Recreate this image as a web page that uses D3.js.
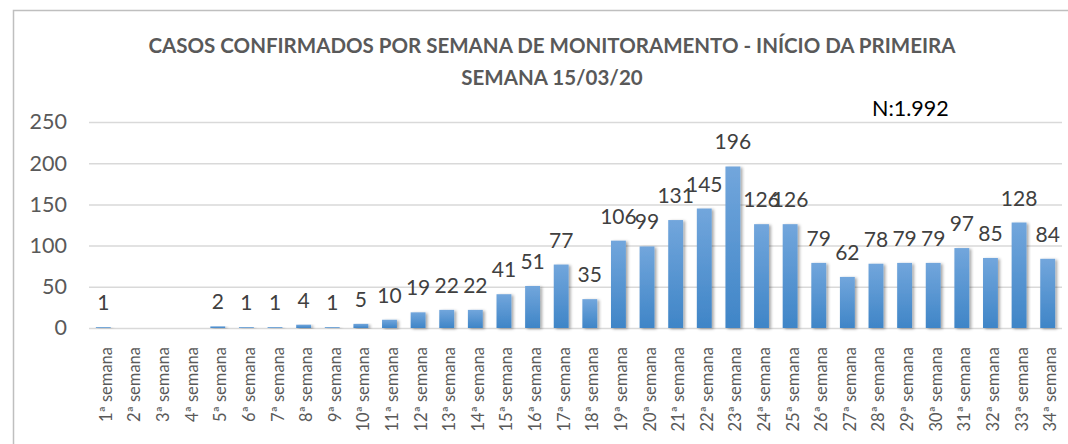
<!DOCTYPE html>
<html>
<head>
<meta charset="utf-8">
<script src="https://cdn.jsdelivr.net/npm/d3@7"></script>
<style>
  body { margin: 0; background: #fff; }
  svg { display: block; font-family: Lato, "Open Sans", sans-serif; }
</style>
</head>
<body>
<div id="chart"></div>
<script>
// data
const weeks = d3.range(1, 35).map(i => i + "ª semana");
const cases = [1, 0, 0, 0, 2, 1, 1, 4, 1, 5, 10, 19, 22, 22, 41, 51, 77, 35, 106, 99,
  131, 145, 196, 126, 126, 79, 62, 78, 79, 79, 97, 85, 128, 84];
const yTicks = [0, 50, 100, 150, 200, 250];
const titleLines = ["CASOS CONFIRMADOS POR SEMANA DE MONITORAMENTO - INÍCIO DA PRIMEIRA", "SEMANA 15/03/20"];

const W = 1068, H = 444;
const margin = {top: 122, right: 6, bottom: 116, left: 89};

const svg = d3.select("#chart")
  .append("svg")
    .attr("width", W)
    .attr("height", H);

// chart frame
svg.append("rect")
  .attr("x", 13.5).attr("y", 10.5)
  .attr("width", 1080).attr("height", 460)
  .attr("fill", "none")
  .attr("stroke", "#bfbfbf")
  .attr("stroke-width", 1.5);

const defs = svg.append("defs");
const grad = defs.append("linearGradient")
  .attr("id", "barGrad")
  .attr("x1", 0).attr("y1", 0).attr("x2", 0).attr("y2", 1);
grad.append("stop").attr("offset", "0%").attr("stop-color", "#72a6dc");
grad.append("stop").attr("offset", "100%").attr("stop-color", "#3f85c7");

const shadow = defs.append("filter")
  .attr("id", "shadow")
  .attr("x", "-30%").attr("y", "-10%").attr("width", "160%").attr("height", "130%");
shadow.append("feDropShadow")
  .attr("dx", 2).attr("dy", 1)
  .attr("stdDeviation", 1.5)
  .attr("flood-color", "#000")
  .attr("flood-opacity", 0.35);

// title
svg.selectAll(".title")
  .data(titleLines)
  .join("text")
    .attr("class", "title")
    .attr("x", 552)
    .attr("y", (d, i) => 53 + i * 32)
    .attr("text-anchor", "middle")
    .attr("font-weight", "bold")
    .attr("font-size", 20.5)
    .attr("fill", "#595959")
    .text(d => d);

svg.append("text")
  .attr("x", 872)
  .attr("y", 116)
  .attr("font-size", 21.5)
  .attr("fill", "#000")
  .text("N:1.992");

const x = d3.scaleBand()
  .domain(weeks)
  .range([margin.left, W - margin.right - 0])
  .paddingInner(0.48)
  .paddingOuter(0.24);

const y = d3.scaleLinear()
  .domain([0, 250])
  .range([H - margin.bottom, margin.top]);

// gridlines + y labels
const yAxis = svg.append("g")
  .attr("transform", `translate(${margin.left},0)`)
  .call(d3.axisLeft(y)
    .tickValues(yTicks)
    .tickSize(-(W - margin.right - margin.left))
    .tickPadding(22));
yAxis.select(".domain").remove();
yAxis.selectAll("line")
  .attr("stroke", "#d9d9d9")
  .attr("stroke-width", 1.5);
yAxis.selectAll("text")
  .attr("font-size", 21.5)
  .attr("fill", "#595959")
  .attr("font-family", "Lato, sans-serif");

// bars
svg.selectAll(".bar")
  .data(cases)
  .join("rect")
    .attr("class", "bar")
    .attr("x", (d, i) => x(weeks[i]))
    .attr("y", d => y(d))
    .attr("width", x.bandwidth())
    .attr("height", d => y(0) - y(d))
    .attr("fill", "url(#barGrad)")
    .attr("filter", "url(#shadow)");

// data labels (weeks with zero cases have none)
svg.selectAll(".val")
  .data(cases.map((v, i) => ({v, i})).filter(d => d.v > 0))
  .join("text")
    .attr("class", "val")
    .attr("x", d => x(weeks[d.i]) + x.bandwidth() / 2)
    .attr("y", d => y(d.v) - 17)
    .attr("text-anchor", "middle")
    .attr("font-size", 21)
    .attr("fill", "#404040")
    .text(d => d.v);

// x labels
const xAxis = svg.append("g")
  .attr("transform", `translate(0,${y(0)})`)
  .call(d3.axisBottom(x).tickSize(0).tickPadding(0));
xAxis.select(".domain").remove();
xAxis.selectAll("text")
  .attr("font-size", 16.5)
  .attr("fill", "#595959")
  .attr("font-family", "Lato, sans-serif")
  .attr("text-anchor", "end")
  .attr("dy", null)
  .attr("y", 0)
  .attr("transform", "translate(8.5,19) rotate(-90)");
</script>
</body>
</html>
